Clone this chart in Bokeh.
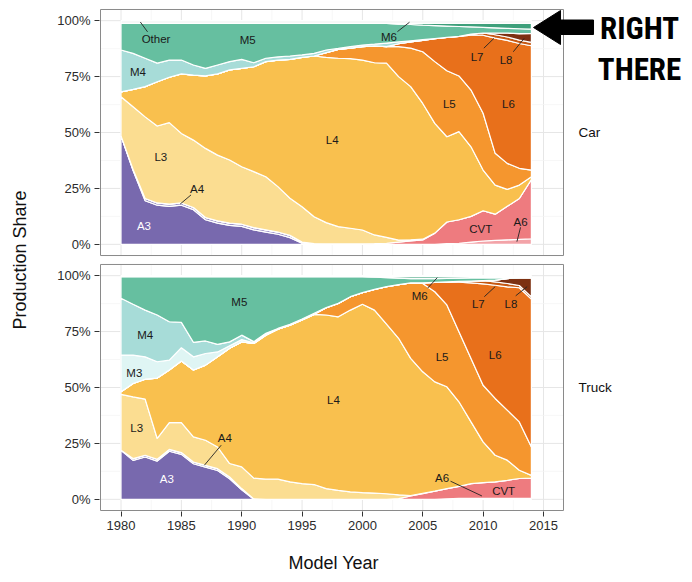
import numpy as np
from bokeh.plotting import figure
from bokeh.models import Range1d, FixedTicker, CustomJSTickFormatter, Title
from bokeh.core.properties import value
from bokeh.embed import file_html
from bokeh.resources import INLINE

years = list(range(1980, 2015))

# ---------------- Car production share (%) ----------------
car_A3 = [48.5, 33, 19.5, 17.5, 17, 17.5, 15.5, 11, 9.5, 8.5, 8, 6.5, 5.5, 4.5, 3, 0.5,
          0, 0, 0, 0, 0, 0, 0, 0, 0, 0, 0, 0, 0, 0, 0, 0, 0, 0, 0]
car_A4 = [0, 0.5, 1, 1, 1, 1, 1, 1, 1, 1, 1, 1, 1, 1, 1, 0.5, 0.3, 0.2, 0.2, 0.2, 0.2,
          0, 0, 0, 0, 0, 0, 0, 0, 0, 0, 0, 0, 0, 0]
car_A6 = [0, 0, 0, 0, 0, 0, 0, 0, 0, 0, 0, 0, 0, 0, 0, 0, 0, 0, 0, 0, 0, 0, 0, 0, 0, 0, 0,
          0.3, 0.5, 1, 1.5, 1.8, 2, 2.2, 2.5]
car_CVT = [0, 0, 0, 0, 0, 0, 0, 0, 0, 0, 0, 0, 0, 0, 0, 0, 0, 0, 0, 0, 0,
           0.3, 0.5, 1, 1.5, 2, 5, 9.7, 10.5, 11.5, 13.5, 11.7, 15, 18.3, 26.5]
car_L3 = [17.5, 28, 36.5, 34.4, 36.4, 31.1, 30.1, 30.9, 29.4, 28.2, 25.7, 25, 23.7, 20.3,
          16.6, 15.8, 12, 9.5, 7.7, 7.0, 6.2, 3.9, 2.6, 0.9, 0.5, 0.3,
          0, 0, 0, 0, 0, 0, 0, 0, 0]
car_L4 = [2.2, 7.8, 13.5, 19.8, 20.3, 26.6, 29.1, 32.4, 36.3, 40.3, 44, 46.9, 51.5, 56.6,
          62.1, 66.8, 71.9, 73.9, 75.3, 75.8, 76, 77, 77.9, 73.1, 68.5, 60.7, 49.1, 38.1,
          39.4, 31.1, 18.2, 13, 7.6, 6, 1.2]
car_L5 = [0, 0, 0, 0, 0, 0, 0, 0, 0, 0, 0, 0, 0, 0, 0, 0, 0,
          2.1, 4, 4.7, 6, 7.5, 7.4, 13.4, 17.2, 23.1, 27.6, 29.5, 24.9, 25.4, 25.4, 14.2,
          11.6, 7.5, 3]
car_L6 = [0, 0, 0, 0, 0, 0, 0, 0, 0, 0, 0, 0, 0, 0, 0, 0, 0, 0, 0, 0, 0, 0, 0,
          1.3, 2.8, 5.1, 10.3, 14.9, 17.7, 24.5, 34.9, 51.5, 55, 55.8, 55.6]
car_L7 = [0, 0, 0, 0, 0, 0, 0, 0, 0, 0, 0, 0, 0, 0, 0, 0, 0, 0, 0, 0, 0, 0, 0, 0, 0, 0, 0,
          0, 0, 0.5, 1, 1.5, 1.5, 1.5, 1.5]
car_L8 = [0, 0, 0, 0, 0, 0, 0, 0, 0, 0, 0, 0, 0, 0, 0, 0, 0, 0, 0, 0, 0, 0, 0, 0, 0, 0, 0,
          0, 0, 0, 0, 0.8, 1.8, 2.9, 4]
car_M3 = [0, 0, 0, 0, 0, 0, 0, 0, 0, 0, 0, 0, 0, 0, 0, 0, 0, 0, 0, 0, 0, 0, 0, 0, 0, 0, 0,
          0, 0, 0, 0, 0, 0, 0, 0]
car_M4 = [18.7, 16.1, 12.7, 8.3, 7.7, 6.2, 4.5, 3.4, 4, 3.7, 4, 1.8, 1.5, 1.4, 1.5, 1.1,
          1.2, 1.2, 0.4, 0.7, 0.7, 0.8, 1.6, 0.8, 0.5, 0.3,
          0, 0, 0, 0, 0, 0, 0, 0, 0]
car_M5 = [11.9, 13.4, 15.6, 17.8, 16.4, 16.4, 18.6, 20.1, 18.6, 17.1, 16.1, 17.6, 15.6, 15,
          14.6, 14.1, 13.4, 11.9, 11.2, 10.4, 9.7, 9.3, 8.8, 8, 7.3, 6.5, 5.8, 5.1, 4.4,
          3.2, 2.5, 2.3, 2.1, 2.2, 1.9]
car_M6 = [0, 0, 0, 0, 0, 0, 0, 0, 0, 0, 0, 0, 0, 0, 0, 0, 0, 0, 0, 0, 0, 0, 0,
          0.3, 0.5, 0.8, 1, 1.2, 1.4, 1.6, 1.8, 2, 2.2, 2.4, 2.6]
car_Other = [1.2, 1.2, 1.2, 1.2, 1.2, 1.2, 1.2, 1.2, 1.2, 1.2, 1.2, 1.2, 1.2, 1.2, 1.2, 1.2,
             1.2, 1.2, 1.2, 1.2, 1.2, 1.2, 1.2, 1.2, 1.2, 1.2, 1.2, 1.2, 1.2, 1.2, 1.2,
             1.2, 1.2, 1.2, 1.2]

# ---------------- Truck production share (%) ----------------
truck_A3 = [21.9, 17.4, 18.9, 17.1, 21.5, 20.1, 15.9, 14.4, 12.9, 9.2, 4.3,
            0, 0, 0, 0, 0, 0, 0, 0, 0, 0, 0, 0, 0, 0, 0, 0, 0, 0, 0, 0, 0, 0, 0, 0]
truck_A4 = [0, 0.8, 0.8, 0.8, 0.8, 0.8, 0.8, 0.8, 0.8, 0.8, 0.5, 0.2,
            0, 0, 0, 0, 0, 0, 0, 0, 0, 0, 0, 0, 0, 0, 0, 0, 0, 0, 0, 0, 0, 0, 0]
truck_A6 = [0, 0, 0, 0, 0, 0, 0, 0, 0, 0, 0, 0, 0, 0, 0, 0, 0, 0, 0, 0, 0, 0, 0, 0, 0, 0, 0,
            0.2, 0.4, 0.4, 0.4, 0.4, 0.4, 0.4, 0.4]
truck_CVT = [0, 0, 0, 0, 0, 0, 0, 0, 0, 0, 0, 0, 0, 0, 0, 0, 0, 0, 0, 0, 0, 0, 0,
             0.3, 1.5, 2.5, 3.7, 4.6, 5.4, 6.6, 7.1, 7.4, 8.1, 8.9, 9.1]
truck_L3 = [25, 27.6, 25.1, 9.3, 12, 13.4, 11.2, 11.2, 9.7, 6, 9.7, 9.3, 9, 9, 7.8, 7, 6.6,
            4.8, 4, 3.3, 3, 2.8, 2.5, 1.7, 0.2, 0.2,
            0, 0, 0, 0, 0, 0, 0, 0, 0]
truck_L4 = [1.2, 6, 8.9, 27, 23.5, 27.5, 29.9, 33.6, 40.3, 51.5, 55.9, 60.2, 64.4, 67.1,
            70.1, 73.2, 76.1, 77.6, 77.6, 81.3, 84.2, 81.8, 75.8, 70, 61.3, 54.3, 48.8,
            45.5, 37.8, 27.6, 18.2, 11.9, 9, 3.7, 1.2]
truck_L5 = [0, 0, 0, 0, 0, 0, 0, 0, 0, 0, 0, 0, 0, 0, 0, 0, 0,
            3.3, 6, 6, 5.2, 9.3, 16.8, 24, 33.8, 39.5, 40.3, 36.6, 31.3, 28.4, 25.3, 25.4,
            22.4, 21.6, 12.7]
truck_L6 = [0, 0, 0, 0, 0, 0, 0, 0, 0, 0, 0, 0, 0, 0, 0, 0, 0, 0, 0, 0, 0, 0, 0, 0, 0,
            0.3, 4.2, 10.3, 22.2, 33.8, 45.3, 50.6, 55.1, 60, 66.1]
truck_L7 = [0, 0, 0, 0, 0, 0, 0, 0, 0, 0, 0, 0, 0, 0, 0, 0, 0, 0, 0, 0, 0, 0, 0, 0, 0, 0, 0,
            0, 0.3, 0.8, 1.5, 1.5, 1.5, 1, 1]
truck_L8 = [0, 0, 0, 0, 0, 0, 0, 0, 0, 0, 0, 0, 0, 0, 0, 0, 0, 0, 0, 0, 0, 0, 0, 0, 0, 0, 0,
            0, 0, 0, 0, 0.8, 2.2, 3.4, 8.5]
truck_M3 = [16.4, 12.7, 10, 7.3, 4.4, 6, 5.9, 5.2, 2.2, 1.2, 1, 0.3, 0.2,
            0, 0, 0, 0, 0, 0, 0, 0, 0, 0, 0, 0, 0, 0, 0, 0, 0, 0, 0, 0, 0, 0]
truck_M4 = [25.4, 22.7, 20.9, 20.9, 17.2, 11.3, 6.5, 5.6, 3.4, 1.7, 2, 0.5, 0.6, 0.3, 0.3,
            0.4, 0.5,
            0, 0, 0, 0, 0, 0, 0, 0, 0, 0, 0, 0, 0, 0, 0, 0, 0, 0]
truck_M5 = [9.6, 12.3, 14.9, 17.1, 20.1, 20.4, 29.3, 28.7, 30.2, 29.1, 26.1, 29, 25.3, 23.1,
            21.3, 18.9, 16.3, 13.8, 11.9, 8.9, 7.1, 5.4, 4, 2.9, 1.9, 1.9, 1.7, 1.6, 1.5,
            1.4, 1.2, 1, 0.4, 0.2, 0.2]
truck_M6 = [0, 0, 0, 0, 0, 0, 0, 0, 0, 0, 0, 0, 0, 0, 0, 0, 0, 0, 0, 0, 0,
            0.2, 0.4, 0.6, 0.8, 0.8, 0.8, 0.7, 0.6, 0.5, 0.5, 0.5, 0.4, 0.3, 0.3]
truck_Other = [0.5, 0.5, 0.5, 0.5, 0.5, 0.5, 0.5, 0.5, 0.5, 0.5, 0.5, 0.5, 0.5, 0.5, 0.5,
               0.5, 0.5, 0.5, 0.5, 0.5, 0.5, 0.5, 0.5, 0.5, 0.5, 0.5, 0.5, 0.5, 0.5, 0.5,
               0.5, 0.5, 0.5, 0.5, 0.5]

categories = ["A3", "A4", "A6", "CVT", "L3", "L4", "L5", "L6", "L7", "L8",
              "M3", "M4", "M5", "M6", "Other"]
car = dict(A3=car_A3, A4=car_A4, A6=car_A6, CVT=car_CVT, L3=car_L3, L4=car_L4, L5=car_L5,
           L6=car_L6, L7=car_L7, L8=car_L8, M3=car_M3, M4=car_M4, M5=car_M5, M6=car_M6,
           Other=car_Other)
truck = dict(A3=truck_A3, A4=truck_A4, A6=truck_A6, CVT=truck_CVT, L3=truck_L3, L4=truck_L4,
             L5=truck_L5, L6=truck_L6, L7=truck_L7, L8=truck_L8, M3=truck_M3, M4=truck_M4,
             M5=truck_M5, M6=truck_M6, Other=truck_Other)
for d in (car, truck):
    for k, v in d.items():
        assert len(v) == len(years), (k, len(v))

colors = dict(A3="#7869AE", A4="#A095C9", A6="#F3A3A8", CVT="#EE7B7F", L3="#FBDD91",
              L4="#F9C04E", L5="#F5962E", L6="#E8701B", L7="#C65813", L8="#7D3011",
              M3="#DFF5F4", M4="#A7DCD8", M5="#66BFA0", M6="#3EA07B", Other="#F4F6F5")

# in-plot labels (year, share)
car_lab_text = ["Other", "M5", "M4", "L3", "A4", "A3", "L4", "L5", "L6", "M6", "L7", "L8", "CVT", "A6"]
car_lab_x = [1982.9, 1990.5, 1981.4, 1983.3, 1986.3, 1981.9, 1997.5, 2007.2, 2012.1, 2002.2, 2009.5, 2011.9, 2009.8, 2013.1]
car_lab_y = [91.8, 91.4, 77.1, 39.0, 24.7, 8.2, 46.6, 62.7, 62.7, 92.7, 83.9, 82.4, 6.7, 10.1]
car_lead = [(1982.2, 95.0, 1981.6, 99.4), (1985.8, 22.1, 1984.9, 18.0),
            (2002.9, 95.1, 2003.9, 99.3), (2010.06, 87.7, 2010.9, 92.1),
            (2012.5, 86.1, 2013.4, 92.1), (2013.1, 7.6, 2012.8, 1.2)]
truck_lab_text = ["M5", "M4", "M3", "L3", "A4", "A3", "L4", "M6", "L7", "L8", "L5", "L6", "A6", "CVT"]
truck_lab_x = [1989.8, 1982.0, 1981.1, 1981.3, 1988.6, 1983.8, 1997.6, 2004.75, 2009.6, 2012.3, 2006.6, 2011.0, 2006.6, 2011.7]
truck_lab_y = [88.4, 73.4, 56.7, 31.7, 27.2, 9.3, 44.3, 91.0, 87.2, 87.2, 63.7, 64.5, 9.5, 3.6]
truck_lead = [(1988.3, 24.2, 1986.9, 15.2), (2005.4, 94.4, 2006.2, 99.1),
              (2010.1, 90.6, 2011.0, 95.1), (2012.7, 91.0, 2013.65, 95.1),
              (2007.3, 8.1, 2009.9, 1.5)]
facet_names = ["Car", "Truck"]

CAR_OFF = 114
X0, X1 = 1978.3, 2016.66
PXX = 12.07
PXY = 503 / (2 * 0.447 + 110 + 4 + 110)
FRAME_W = 585
XL = X0 - 1 / PXX

p = figure(frame_width=FRAME_W, frame_height=503,
           x_range=Range1d(XL, XL + FRAME_W / PXX),
           y_range=Range1d(-5 - 1 / PXY, CAR_OFF + 105 + 1 / PXY),
           output_backend="svg", toolbar_location=None,
           min_border_left=99, min_border_right=0, min_border_top=8, min_border_bottom=71,
           background_fill_color="white", border_fill_color="white")
p.xgrid.visible = False
p.ygrid.visible = False
p.outline_line_color = None

# page-pixel helpers (for annotation placement only)
def px2x(px):
    return 1980 + (px - 120.5) / PXX

def py2y(py):
    return -5 - 1 / PXY + (511 - py) / PXY

# grid
for off in (0, CAR_OFF):
    lo, hi = off - 5, off + 105
    vmaj = [1980, 1985, 1990, 1995, 2000, 2005, 2010, 2015]
    vmin = [1982.5, 1987.5, 1992.5, 1997.5, 2002.5, 2007.5, 2012.5]
    p.segment(x0=vmin, y0=[lo] * len(vmin), x1=vmin, y1=[hi] * len(vmin),
              line_color="#F3F3F3", line_width=0.7)
    p.segment(x0=vmaj, y0=[lo] * len(vmaj), x1=vmaj, y1=[hi] * len(vmaj),
              line_color="#E6E6E6", line_width=1)
    hmin = [off + v for v in (12.5, 37.5, 62.5, 87.5)]
    hmaj = [off + v for v in (0, 25, 50, 75, 100)]
    p.segment(x0=[X0] * 4, y0=hmin, x1=[X1] * 4, y1=hmin, line_color="#F3F3F3", line_width=0.7)
    p.segment(x0=[X0] * 5, y0=hmaj, x1=[X1] * 5, y1=hmaj, line_color="#E6E6E6", line_width=1)

# stacked areas
for data, off in ((truck, 0), (car, CAR_OFF)):
    base = np.zeros(len(years))
    for name in categories:
        vals = np.array(data[name], dtype=float)
        top = base + vals
        if vals.sum() > 0:
            xs = years + years[::-1]
            ys = list(top + off) + list((base + off)[::-1])
            p.patch(xs, ys, fill_color=colors[name], line_color="white", line_width=1.2)
        base = top

# panel borders
p.quad(left=[X0, X0], right=[X1, X1], bottom=[-5, CAR_OFF - 5], top=[105, CAR_OFF + 105],
       fill_color=None, line_color="#8A8A8A", line_width=1)

# leader lines and labels
for leads, off in ((car_lead, CAR_OFF), (truck_lead, 0)):
    p.segment(x0=[a[0] for a in leads], y0=[a[1] + off for a in leads],
              x1=[a[2] for a in leads], y1=[a[3] + off for a in leads],
              line_color="#222222", line_width=0.9)
for txt, lx, ly, off in ((car_lab_text, car_lab_x, car_lab_y, CAR_OFF),
                         (truck_lab_text, truck_lab_x, truck_lab_y, 0)):
    cols = ["white" if t == "A3" else "#1A1A1A" for t in txt]
    p.text(x=lx, y=[v + off for v in ly], text=txt, text_color=cols,
           text_font=value("Liberation Sans"), text_font_size=value("11.5px"),
           text_align="center", text_baseline="middle")

# facet strip labels (right side)
p.text(x=[px2x(578)] * 2, y=[CAR_OFF + 50, 50], text=facet_names, text_color="#111111",
       text_font=value("Liberation Sans"), text_font_size=value("13.5px"),
       text_align="left", text_baseline="middle")

# axes
p.xaxis.ticker = FixedTicker(ticks=[1980, 1985, 1990, 1995, 2000, 2005, 2010, 2015])
p.yaxis.ticker = FixedTicker(ticks=[0, 25, 50, 75, 100] + [CAR_OFF + v for v in (0, 25, 50, 75, 100)])
p.yaxis.formatter = CustomJSTickFormatter(
    code="var v = tick > 107 ? tick - %d : tick; return v.toFixed(0) + '%%';" % CAR_OFF)
p.yaxis.axis_label = "Production Share"
for ax in (p.xaxis[0], p.yaxis[0]):
    ax.axis_line_color = None
    ax.major_tick_line_color = "#333333"
    ax.major_tick_out = 5
    ax.major_tick_in = 0
    ax.minor_tick_line_color = None
    ax.major_label_standoff = 4
    ax.major_label_text_font = "Liberation Sans"
    ax.major_label_text_font_size = "13px"
    ax.major_label_text_color = "#2B2B2B"
    ax.axis_label_text_font = "Liberation Sans"
    ax.axis_label_text_font_size = "18px"
    ax.axis_label_text_font_style = "normal"
    ax.axis_label_text_color = "#111111"
p.yaxis.axis_label_standoff = 24

# x-axis title, centred under the panels (not under the wider frame)
p.add_layout(Title(text="Model Year", align="left", offset=189, standoff=37,
                   text_font="Liberation Sans", text_font_size="18px",
                   text_font_style="normal", text_color="#111111"), "below")

# annotation: arrow + "RIGHT THERE"
arrow_px = [533, 560, 560, 593, 593, 560, 560]
arrow_py = [27, 10, 19.5, 19.5, 34, 34, 44]
p.patch([px2x(v) for v in arrow_px], [py2y(v) for v in arrow_py],
        fill_color="black", line_color="black", line_width=1)
p.text(x=[px2x(639)] * 2, y=[py2y(27.5), py2y(69)], text=["RIGHT", "THERE"],
       text_color="black", text_align="center", text_baseline="middle",
       text_font=value("Roboto Condensed, Liberation Sans Narrow, Liberation Sans"),
       text_font_style="bold", text_font_size=value("31px"))

open("out.html", "w").write(file_html(p, INLINE))
